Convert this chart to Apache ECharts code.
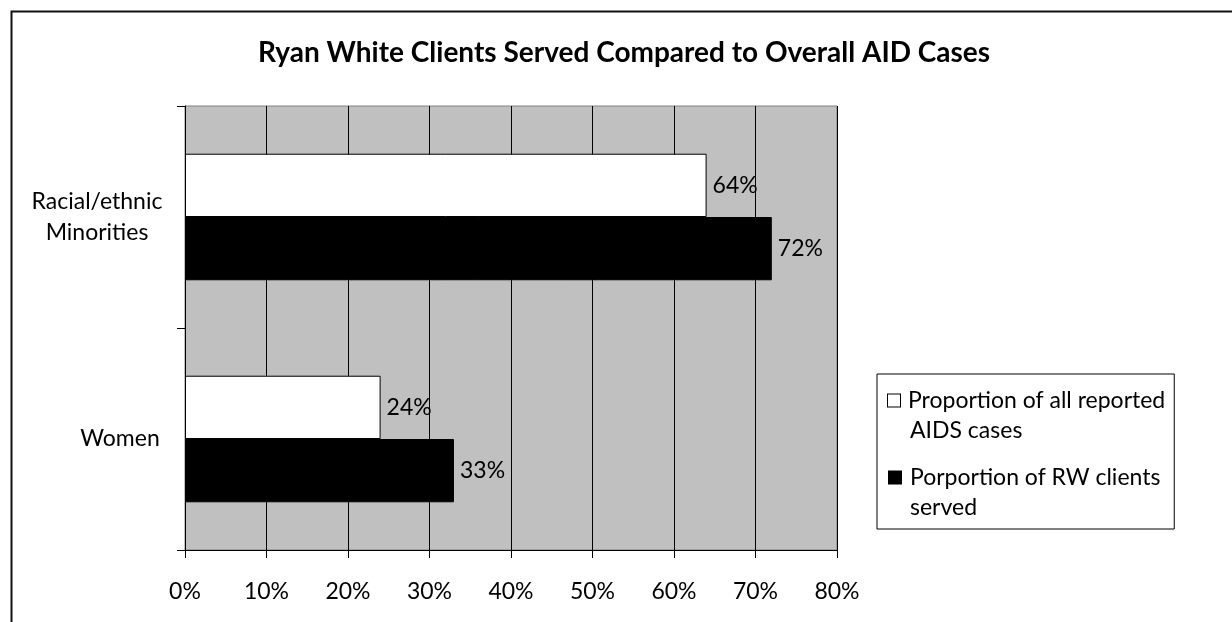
<!DOCTYPE html>
<html>
<head>
<meta charset="utf-8">
<script src="https://cdn.jsdelivr.net/npm/echarts@6/dist/echarts.min.js"></script>
<style>
html,body{margin:0;padding:0;background:#fff;}
#chart{width:1232px;height:622px;}
</style>
</head>
<body>
<div id="chart"></div>
<script>
const categories = ['Racial/ethnic Minorities', 'Women'];
const seriesNames = ['Proportion of all reported AIDS cases', 'Porportion of RW clients served'];
const allAidsCases = [0.64, 0.24];
const rwClientsServed = [0.72, 0.33];
const legendLines = {
  'Proportion of all reported AIDS cases': ['Proportion of all reported', 'AIDS cases'],
  'Porportion of RW clients served': ['Porportion of RW clients', 'served']
};
const FONT = 'Lato';
const FS = 23;

const chart = echarts.init(document.getElementById('chart'));
const pct = v => Math.round(v * 100) + '%';

chart.setOption({
  animation: false,
  backgroundColor: '#ffffff',
  textStyle: { fontFamily: FONT, color: '#000' },
  title: {
    text: 'Ryan White Clients Served Compared to Overall AID Cases',
    left: 624, top: 39, padding: 0, textAlign: 'center',
    textStyle: { fontFamily: FONT, fontWeight: 'bold', fontSize: 28, color: '#000' }
  },
  graphic: [{
    type: 'rect', left: 9, top: 9, silent: true,
    shape: { x: 0, y: 0, width: 1240, height: 640 },
    style: { fill: 'none', stroke: '#111', lineWidth: 2 }
  }],
  legend: {
    orient: 'vertical', left: 877, top: 374,
    padding: [15, 9, 10, 5], itemGap: 24,
    itemWidth: 0, itemHeight: 0, icon: 'rect',
    borderColor: '#000', borderWidth: 1, backgroundColor: '#fff',
    selectedMode: false,
    data: seriesNames,
    formatter: function (name) {
      const l = legendLines[name];
      const key = name === seriesNames[0] ? 'w' : 'b';
      return '{' + key + '|}{t|' + l[0] + '}\n{g|}{t|' + l[1] + '}';
    },
    textStyle: {
      fontFamily: FONT, fontSize: FS, color: '#000',
      rich: {
        w: { width: 12, height: 12, backgroundColor: '#fff', borderColor: '#000', borderWidth: 1 },
        b: { width: 14, height: 14, backgroundColor: '#000' },
        g: { width: 14 },
        t: { fontFamily: FONT, fontSize: FS, lineHeight: 30, color: '#000', padding: [0, 0, 0, 8] }
      }
    }
  },
  grid: {
    left: 185, top: 106, width: 652, height: 444,
    show: true, backgroundColor: '#c0c0c0', borderColor: '#808080', borderWidth: 1
  },
  xAxis: {
    type: 'value', min: 0, max: 0.8, interval: 0.1,
    axisLine: { show: true, lineStyle: { color: '#000', width: 1 } },
    axisTick: { show: true, length: 8, lineStyle: { color: '#000' } },
    splitLine: { show: true, lineStyle: { color: '#000', width: 1 } },
    axisLabel: {
      formatter: v => Math.round(v * 100) + '%',
      fontFamily: FONT, fontSize: FS, color: '#000', margin: 30
    }
  },
  yAxis: {
    type: 'category', data: categories, inverse: true,
    axisLine: { show: true, lineStyle: { color: '#000', width: 1 } },
    axisTick: { show: true, length: 8, lineStyle: { color: '#000' } },
    splitLine: { show: false },
    axisLabel: {
      margin: 20, color: '#000',
      formatter: v => v === 'Women' ? '{w|Women}' : '{r|Racial/ethnic\nMinorities}',
      rich: {
        r: { fontFamily: FONT, fontSize: FS, lineHeight: 31, width: 136, align: 'center', color: '#000' },
        w: { fontFamily: FONT, fontSize: FS, lineHeight: 31, width: 90, align: 'center', color: '#000' }
      }
    }
  },
  series: [
    {
      name: seriesNames[0], type: 'bar', data: allAidsCases,
      barGap: '0%', barCategoryGap: '43%',
      itemStyle: { color: '#ffffff', borderColor: '#000', borderWidth: 1 },
      label: { show: true, position: 'right', distance: 6, formatter: p => pct(p.value),
        fontFamily: FONT, fontSize: FS, color: '#000' }
    },
    {
      name: seriesNames[1], type: 'bar', data: rwClientsServed,
      barGap: '0%', barCategoryGap: '43%',
      itemStyle: { color: '#000000', borderColor: '#000', borderWidth: 1 },
      label: { show: true, position: 'right', distance: 6, formatter: p => pct(p.value),
        fontFamily: FONT, fontSize: FS, color: '#000' }
    }
  ]
});
</script>
</body>
</html>
